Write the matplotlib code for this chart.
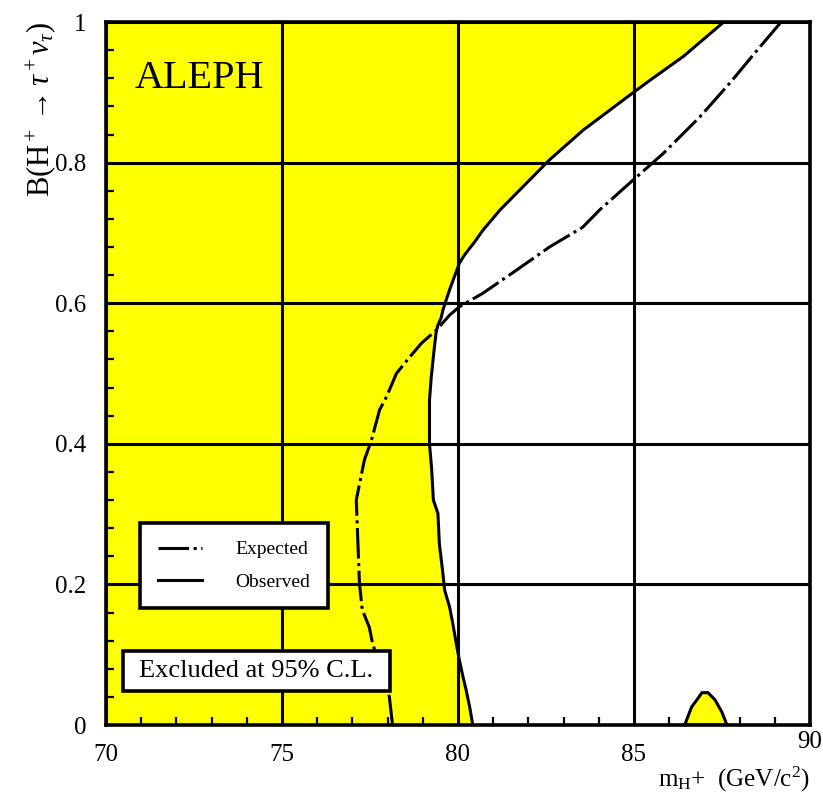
import matplotlib
matplotlib.use('Agg')
import matplotlib.pyplot as plt
from matplotlib.patches import Rectangle
from matplotlib.ticker import MultipleLocator
from matplotlib.transforms import ScaledTranslation

plt.rcParams['font.family'] = ['Liberation Serif', 'DejaVu Serif']
plt.rcParams['mathtext.fontset'] = 'custom'
plt.rcParams['mathtext.rm'] = 'Liberation Serif'
plt.rcParams['mathtext.it'] = 'Liberation Serif:italic'

# observed limit: m_H+ (GeV/c^2) vs branching ratio
obs_br = [0.0, 0.026, 0.05, 0.069, 0.092, 0.116, 0.145, 0.168, 0.192, 0.216,
          0.258, 0.301, 0.32, 0.365, 0.40, 0.462, 0.495, 0.538, 0.559, 0.569,
          0.579, 0.59, 0.604, 0.619, 0.638, 0.657, 0.669, 0.687, 0.704, 0.733,
          0.804, 0.846, 0.896, 0.917, 0.951, 1.0]
obs_mass = [80.42, 80.33, 80.23, 80.14, 80.04, 79.95, 79.85, 79.76, 79.62, 79.57,
            79.47, 79.43, 79.3, 79.25, 79.19, 79.19, 79.24, 79.33, 79.38, 79.43,
            79.52, 79.57, 79.66, 79.76, 79.90, 80.04, 80.19, 80.47, 80.71, 81.2,
            82.6, 83.55, 84.88, 85.45, 86.40, 87.55]

# expected limit
exp_br = [0.0, 0.04, 0.117, 0.139, 0.164, 0.202, 0.32, 0.377, 0.405, 0.448,
          0.467, 0.50, 0.523, 0.543, 0.562, 0.583, 0.595, 0.614, 0.647, 0.68,
          0.708, 0.733, 0.775, 0.813, 0.865, 0.913, 0.96, 1.0]
exp_mass = [78.14, 78.05, 77.57, 77.48, 77.28, 77.2, 77.11, 77.34, 77.54, 77.77,
            77.97, 78.25, 78.62, 78.96, 79.39, 79.76, 80.04, 80.7, 81.66, 82.6,
            83.54, 84.03, 84.97, 85.83, 86.87, 87.72, 88.5, 89.18]

# small excluded island near 87 GeV
island_mass = [86.44, 86.64, 86.79, 86.93, 87.10, 87.30, 87.50, 87.64]
island_br = [0.0, 0.026, 0.036, 0.046, 0.046, 0.036, 0.018, 0.0]

x_ticks = [70, 75, 80, 85, 90]
x_labels = ['70', '75', '80', '85', '90']
y_ticks = [0, 0.2, 0.4, 0.6, 0.8, 1.0]
y_labels = ['0', '0.2', '0.4', '0.6', '0.8', '1']

fig = plt.figure(figsize=(8.23, 8.07), dpi=100)
ax = fig.add_axes([0.1288, 0.1016, 0.8554, 0.8711])

yellow = '#ffff00'
lw = 2.2

# excluded region = everything left of the observed curve
ax.fill_betweenx(obs_br, 70, obs_mass, color=yellow, lw=0, zorder=1)
ax.fill(island_mass, island_br, facecolor=yellow, edgecolor='black', lw=lw, zorder=2)

ax.plot(exp_mass, exp_br, color='black', lw=lw, dashes=(10, 1.5, 1, 1.5),
        label='Expected', zorder=3)
ax.plot(obs_mass, obs_br, color='black', lw=lw, label='Observed', zorder=3)

ax.set_xlim(70, 90)
ax.set_ylim(0, 1)
ax.set_xticks(x_ticks)
ax.set_xticklabels(x_labels)
ax.set_yticks(y_ticks)
ax.set_yticklabels(y_labels)
ax.xaxis.set_minor_locator(MultipleLocator(1))
ax.yaxis.set_minor_locator(MultipleLocator(0.04))
ax.tick_params(which='major', length=0, labelsize=18, pad=14)
ax.tick_params(which='minor', direction='in', length=6, width=1.6)
ax.tick_params(top=False, right=False)
ax.grid(True, which='major', color='black', lw=lw)
for sp in ax.spines.values():
    sp.set_linewidth(2.6)

# last x label sits a little higher, clear of the axis title
last = ax.get_xticklabels()[-1]
last.set_transform(last.get_transform() + ScaledTranslation(0, 10 / 72, fig.dpi_scale_trans))

ax.set_ylabel(r'B(H$^+\rightarrow\tau^+\nu_\tau$)', fontsize=22, loc='top')
ax.yaxis.set_label_coords(-0.068, 1.0)
ax.set_xlabel(r'm$_{\rm H}$+  (GeV/c$^2$)', fontsize=18, loc='right')
ax.xaxis.set_label_coords(1.0, -0.056)
ax.xaxis.label.set_va('top')

ax.text(0.132, 0.919, 'ALEPH', transform=ax.transAxes, fontsize=29,
        ha='center', va='center', zorder=6)

leg = ax.legend(loc='upper left', bbox_to_anchor=(0.0483, 0.287), borderaxespad=0,
                fontsize=14, handlelength=2.3, handletextpad=1.7, borderpad=0.9,
                labelspacing=0.75, fancybox=False, framealpha=1, edgecolor='black')
leg.get_frame().set_linewidth(2.6)
leg.set_zorder(6)

# "Excluded at 95% C.L." box
ax.add_patch(Rectangle((0.024, 0.048), 0.379, 0.057, transform=ax.transAxes,
                       facecolor='white', edgecolor='black', lw=2.6, zorder=6))
ax.text(0.2135, 0.0765, 'Excluded at 95% C.L.', transform=ax.transAxes,
        fontsize=19, ha='center', va='center', zorder=7)

fig.savefig('out.png', dpi=100)
